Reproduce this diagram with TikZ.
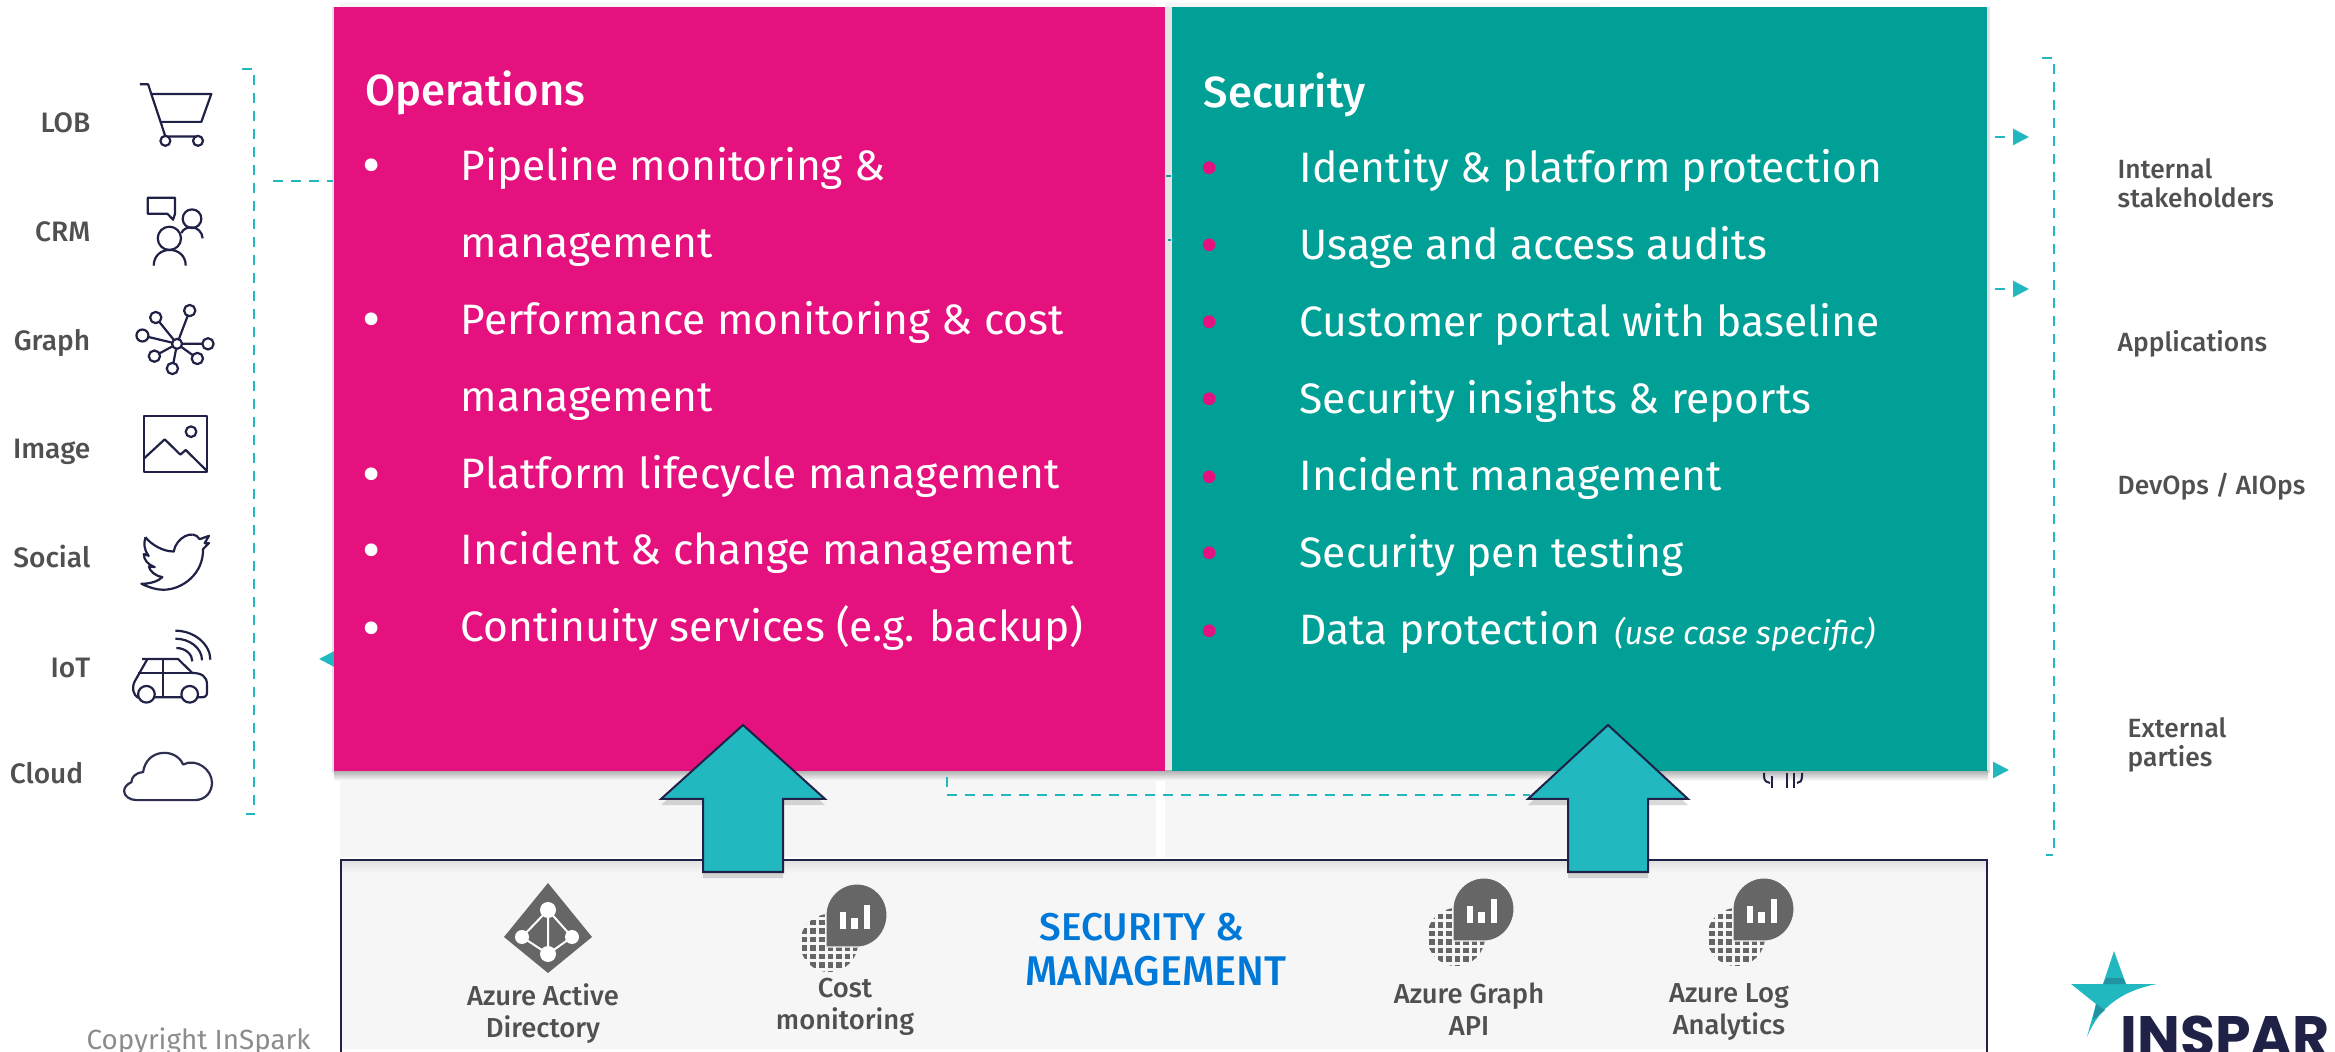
\documentclass[tikz,border=0pt]{standalone}
\usepackage{fontspec}
\usepackage{tikz}
\setmainfont{Fira Sans}
\newfontfamily\labelfont{Fira Sans Medium}
\newfontfamily\logofont{Poppins}
\definecolor{opspink}{RGB}{228,17,126}
\definecolor{secteal}{RGB}{0,160,150}
\definecolor{flowteal}{RGB}{34,184,192}
\definecolor{navy}{RGB}{31,33,71}
\definecolor{labelgray}{RGB}{80,80,80}
\definecolor{panelgray}{RGB}{246,246,246}
\definecolor{icongray}{RGB}{102,102,102}
\definecolor{headblue}{RGB}{0,120,215}
\usetikzlibrary{arrows.meta}
\usetikzlibrary{shadows}
\pgfdeclarelayer{edgelayer}
\pgfdeclarelayer{nodelayer}
\pgfsetlayers{edgelayer,nodelayer,main}
\tikzstyle{box}=[rectangle,inner sep=0pt,minimum height=7.64cm]
\tikzstyle{head}=[anchor=base west,inner sep=0pt,text=white,font=\labelfont\fontsize{12.4}{14}\selectfont]
\tikzstyle{item}=[anchor=base west,inner sep=0pt,text=white,font=\fontsize{12.1}{14}\selectfont]
\tikzstyle{dot}=[anchor=base,inner sep=0pt,yshift=-.05cm,font=\fontsize{16}{20}\selectfont]
\tikzstyle{source}=[anchor=base east,inner sep=0pt,text=labelgray,font=\labelfont\fontsize{8}{9}\selectfont]
\tikzstyle{target}=[anchor=west,inner sep=0pt,align=left,text=labelgray,font=\labelfont\fontsize{7.5}{8.2}\selectfont]
\tikzstyle{service}=[inner sep=0pt,align=center,text=labelgray,font=\labelfont\fontsize{7.8}{9.1}\selectfont]
\tikzstyle{panelhead}=[anchor=base,inner sep=0pt,text=headblue,font=\labelfont\fontsize{11}{12}\selectfont]
\tikzstyle{flow}=[flowteal,line width=.24mm,dash pattern=on 1mm off .8mm]
\tikzstyle{flowhead}=[flow,-{Triangle[length=1.6mm,width=1.6mm]}]
\tikzstyle{icon}=[navy,line width=.22mm,line join=round]
\tikzstyle{bigarrow}=[draw=navy,fill=flowteal,line width=.2mm,drop shadow={shadow xshift=0mm,shadow yshift=-.6mm,opacity=.3}]
\tikzset{monitoricon/.pic={
    \fill [icongray] (3,59) circle [radius=29];
    \draw [panelgray,line width=.3mm,step=.85mm] (-30,28) grid (35,90);
    \filldraw [fill=icongray,draw=panelgray,line width=.1mm] (0,63) -- (0,31) .. controls (0,14) and (14,0) .. (31,0) .. controls (48,0) and (61,14) .. (61,31) .. controls (61,48) and (48,63) .. (31,63) -- cycle;
    \fill [white] (14,28) rectangle (20,45);
    \fill [white] (25,34) rectangle (32,45);
    \fill [white] (38,21) rectangle (44,45);
}}
\begin{document}
\begin{tikzpicture}[x=0.01cm,y=-0.01cm]
    \useasboundingbox (0,0) rectangle (2335,1052);

    \begin{pgfonlayer}{edgelayer}
        \fill [panelgray] (340,3) rectangle (1156,857);
        \fill [panelgray] (1165,3) rectangle (1600,857);
        \fill [gray!22] (332,7) rectangle (1990,773);
        \shade [top color=gray!60,bottom color=white] (334,771) rectangle (1988,781);

        \draw [navy,line width=.2mm] (1764,773) -- (1764,776) .. controls (1764,781) and (1767,783) .. (1770,783);
        \draw [navy,line width=.2mm] (1772,776) -- (1772,788);
        \draw [navy,line width=.2mm] (1787,773) -- (1787,788);
        \draw [navy,line width=.2mm] (1794,773) -- (1794,788);
        \draw [navy,line width=.2mm] (1802,773) -- (1802,776) .. controls (1802,781) and (1800,783) .. (1797,783);

        \coordinate (leftfeed) at (273,181);
        \coordinate (lefttip) at (319,659);
        \coordinate (lefthidden) at (420,659);
        \coordinate (gapa) at (1168,176);
        \coordinate (gapb) at (1168,240);
        \coordinate (righta) at (2029,137);
        \coordinate (rightb) at (2029,289);
        \coordinate (rightc) at (2009,770);
        \coordinate (rightchidden) at (1988,770);
        \coordinate (busstart) at (947,777);
        \coordinate (busend) at (1530,795);

        \draw [flow] (242,69) -- (254,69) -- (254,814) -- (246,814);
        \draw [flow] (2042,58) -- (2054,58) -- (2054,855) -- (2046,855);
        \draw [flow] (busstart) |- (busend);
        \draw [flowhead] (lefthidden) to (lefttip);
        \draw [flowhead, dash phase=1.2mm] (rightchidden) to (rightc);
    \end{pgfonlayer}

    \begin{pgfonlayer}{nodelayer}
        \node [style = box, fill=opspink, minimum width=8.31cm] (ops) at (749.5,389) {};
        \node [style = box, fill=secteal, minimum width=8.15cm] (sec) at (1579.5,389) {};

        \draw [flow] (leftfeed) to (ops.west |- leftfeed);
        \draw [flowhead, dash phase=1.1mm] (sec.east |- righta) to (righta);
        \draw [flowhead, dash phase=1.1mm] (sec.east |- rightb) to (rightb);
        \draw [flowteal!80!black,line width=.15mm] (ops.east |- gapa) to (sec.west |- gapa);
        \draw [flowteal!80!black,line width=.15mm] (gapb) to (sec.west |- gapb);

        \node [style = head] (opshead) at (365,106) {Operations};
        \node [style = dot, text=white] (opsdota) at (372,180) {•};
        \node [style = item] (opsa) at (460,181) {Pipeline monitoring \&};
        \node [style = item] (opsb) at (460,258) {management};
        \node [style = dot, text=white] (opsdotc) at (372,334) {•};
        \node [style = item] (opsc) at (460,335) {Performance monitoring \& cost};
        \node [style = item] (opsd) at (460,412) {management};
        \node [style = dot, text=white] (opsdote) at (372,488) {•};
        \node [style = item] (opse) at (460,489) {Platform lifecycle management};
        \node [style = dot, text=white] (opsdotf) at (372,565) {•};
        \node [style = item] (opsf) at (460,565) {Incident \& change management};
        \node [style = dot, text=white] (opsdotg) at (372,642) {•};
        \node [style = item] (opsg) at (460,642) {Continuity services (e.g. backup)};

        \node [style = head] (sechead) at (1203,108) {Security};
        \node [style = dot, text=opspink] (secdota) at (1210,183) {•};
        \node [style = item] (seca) at (1299,183) {Identity \& platform protection};
        \node [style = dot, text=opspink] (secdotb) at (1210,260) {•};
        \node [style = item] (secb) at (1299,260) {Usage and access audits};
        \node [style = dot, text=opspink] (secdotc) at (1210,337) {•};
        \node [style = item] (secc) at (1299,337) {Customer portal with baseline};
        \node [style = dot, text=opspink] (secdotd) at (1210,414) {•};
        \node [style = item] (secd) at (1299,414) {Security insights \& reports};
        \node [style = dot, text=opspink] (secdote) at (1210,491) {•};
        \node [style = item] (sece) at (1299,491) {Incident management};
        \node [style = dot, text=opspink] (secdotf) at (1210,568) {•};
        \node [style = item] (secf) at (1299,568) {Security pen testing};
        \node [style = dot, text=opspink] (secdotg) at (1210,645) {•};
        \node [style = item] (secg) at (1299,645) {Data protection \hspace{.03cm}{\itshape\fontsize{9.2}{10}\selectfont(use case specific)}};

        \node [style = source] (lob) at (91,133) {LOB};
        \node [style = source] (crm) at (91,242) {CRM};
        \node [style = source] (graph) at (91,351) {Graph};
        \node [style = source] (image) at (91,459) {Image};
        \node [style = source] (social) at (91,568) {Social};
        \node [style = source] (iot) at (91,678) {IoT};
        \node [style = source] (cloud) at (84,784) {Cloud};

        \node [style = target] (internal) at (2117,183) {Internal\\stakeholders};
        \node [style = target] (apps) at (2117,344) {Applications};
        \node [style = target] (devops) at (2117,487) {DevOps / AIOps};
        \node [style = target] (external) at (2127,745) {External\\parties};

        \fill [panelgray] (341,860) rectangle (1987,1049);
        \shade [top color=gray!25,bottom color=panelgray] (341,860) rectangle (1987,872);
        \draw [navy,line width=.2mm] (341,1060) -- (341,860) -- (1987,860) -- (1987,1060);

        \fill [icongray] (548,883) -- (592,937) -- (548,973) -- (504,937) -- cycle;
        \draw [white,line width=.2mm] (548,910) -- (572,937) -- (548,954) -- (522,937) -- cycle (548,910) -- (548,954);
        \fill [white] (548,910) circle [radius=8];
        \fill [white] (522,937) circle [radius=7];
        \fill [white] (572,937) circle [radius=7];
        \fill [white] (548,954) circle [radius=8];
        \pic at (826,884) {monitoricon};
        \pic at (1453,878) {monitoricon};
        \pic at (1733,878) {monitoricon};

        \node [style = service] (aad) at (543,1014) {Azure Active\\Directory};
        \node [style = service] (cost) at (845,1007) {Cost\\monitoring};
        \node [style = panelhead] (panelheada) at (1142,941) {SECURITY \&};
        \node [style = panelhead, font=\labelfont\fontsize{11.8}{12}\selectfont] (panelheadb) at (1156,985) {MANAGEMENT};
        \node [style = service] (graphapi) at (1469,1009) {Azure Graph\\API};
        \node [style = service] (loganalytics) at (1729,1012) {Azure Log\\Analytics};

        \node [anchor=base west,inner sep=0pt,text=gray!90,font=\fontsize{7.9}{9}\selectfont] (copyright) at (86,1050) {Copyright InSpark};
        \node [anchor=base west,inner sep=0pt,text=navy,font=\logofont\bfseries\fontsize{16.2}{18}\selectfont] (logotext) at (2120,1056) {INSPAR};

        \fill [flowteal] (2114,951) -- (2126,984) -- (2157,984) .. controls (2125,990) and (2100,1005) .. (2087,1037) -- (2096,1004) -- (2071,984) -- (2103,984) -- cycle;
        \fill [flowteal!75!navy] (2103,984) -- (2106,978) -- (2123,978) -- (2126,984) -- cycle;
        \fill [flowteal!75!navy] (2096,1004) -- (2105,1010) -- (2093,1020) -- cycle;
    \end{pgfonlayer}

    \begin{scope}[shift={(0,40)},x=0.00333cm,y=-0.00333cm]
        \draw [style = icon] (420,133) -- (445,133) -- (497,290) -- (595,290);
        \draw [style = icon] (455,162) -- (635,162) -- (605,246) -- (483,246);
        \draw [style = icon, fill=white] (497,303) circle [radius=15];
        \draw [style = icon, fill=white] (595,303) circle [radius=15];

        \draw [style = icon] (444,474) -- (526,474) -- (526,522) -- (520,540) -- (503,522) -- (444,522) -- cycle;
        \draw [style = icon] (509,596) circle [radius=35];
        \draw [style = icon] (462,678) .. controls (462,615) and (558,615) .. (558,678);
        \draw [style = icon] (577,537) circle [radius=28];
        \draw [style = icon] (545,580) .. controls (555,555) and (605,555) .. (609,596);

        \draw [style = icon] (532,913) -- (570,813) (532,913) -- (468,834) (532,913) -- (428,888) (532,913) -- (625,913) (532,913) -- (593,957) (532,913) -- (518,987) (532,913) -- (464,950);
        \draw [style = icon, fill=white] (532,913) circle [radius=15];
        \draw [style = icon, fill=white] (570,813) circle [radius=17];
        \draw [style = icon, fill=white] (468,834) circle [radius=17];
        \draw [style = icon, fill=white] (428,888) circle [radius=18];
        \draw [style = icon, fill=white] (625,913) circle [radius=17];
        \draw [style = icon, fill=white] (593,957) circle [radius=17];
        \draw [style = icon, fill=white] (518,987) circle [radius=17];
        \draw [style = icon, fill=white] (464,950) circle [radius=17];

        \draw [style = icon] (432,1131) rectangle (622,1299);
        \draw [style = icon] (574,1177) circle [radius=16];
        \draw [style = icon] (432,1258) -- (495,1200) -- (542,1246) -- (558,1232) -- (622,1295);
    \end{scope}

    \begin{scope}[shift={(0,450)},x=0.00333cm,y=-0.00333cm]
        \draw [style = icon] (437,262) .. controls (455,285) and (490,305) .. (522,305) .. controls (528,265) and (580,235) .. (600,268) -- (628,258) -- (615,280) -- (628,280) -- (610,298) .. controls (612,370) and (550,420) .. (490,420) .. controls (470,420) and (445,412) .. (425,402) .. controls (450,402) and (475,395) .. (488,382) .. controls (470,380) and (450,365) .. (447,350) -- (465,352) .. controls (445,345) and (432,330) .. (432,313) -- (447,318) .. controls (432,300) and (432,280) .. (437,262);

        \draw [style = icon] (427,628) -- (535,628) -- (578,670) .. controls (605,670) and (622,680) .. (622,705) -- (622,730) .. controls (622,740) and (615,745) .. (597,743) -- (465,743);
        \draw [style = icon] (443,628) -- (405,695) .. controls (395,715) and (400,735) .. (415,745);
        \draw [style = icon] (415,670) -- (578,670);
        \draw [style = icon] (489,628) -- (489,743);
        \draw [style = icon, fill=white] (440,734) circle [radius=25];
        \draw [style = icon, fill=white] (570,734) circle [radius=25];
        \draw [style = icon] (527,543) .. controls (585,543) and (632,585) .. (632,630);
        \draw [style = icon] (527,567) .. controls (570,567) and (607,595) .. (607,632);
        \draw [style = icon] (530,595) .. controls (558,595) and (578,615) .. (578,635);

        \draw [style = icon, navy!85!gray] (410,1052) -- (585,1052) .. controls (620,1052) and (637,1025) .. (637,1000) .. controls (637,960) and (590,925) .. (550,945) .. controls (530,895) and (440,895) .. (430,968) .. controls (405,970) and (395,985) .. (395,998) .. controls (380,1005) and (373,1015) .. (373,1025) .. controls (373,1040) and (390,1052) .. (410,1052) -- cycle;
    \end{scope}

    \draw [style = bigarrow] (743,725) -- (825,799) -- (783,799) -- (783,872) -- (703,872) -- (703,799) -- (661,799) -- cycle;
    \draw [style = bigarrow] (1608,725) -- (1688,799) -- (1648,799) -- (1648,872) -- (1568,872) -- (1568,799) -- (1528,799) -- cycle;
\end{tikzpicture}
\end{document}
